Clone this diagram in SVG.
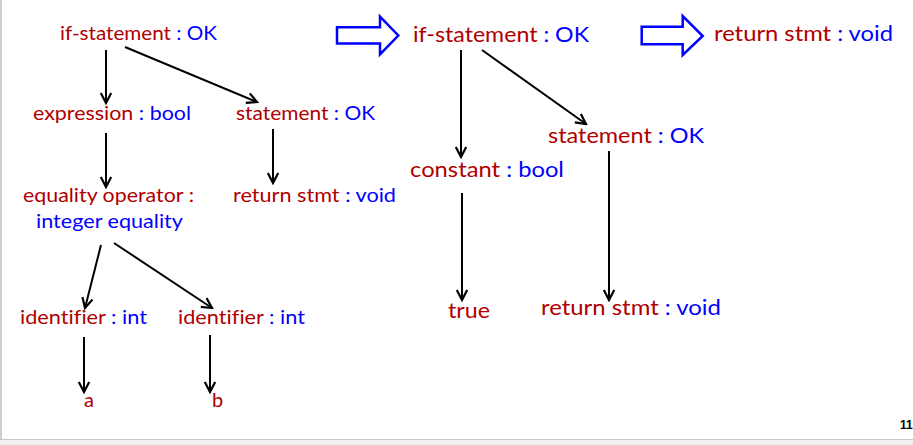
<svg xmlns="http://www.w3.org/2000/svg" width="913" height="445" viewBox="0 0 913 445">
<defs>
<style>
text{font-family:Lato,"Open Sans","Liberation Sans",sans-serif;font-variant-ligatures:none;}
.l{font-size:20px;}
.r{font-size:22px;}
.red{fill:#b00000;}
.blue{fill:#0000ff;}
.edge{stroke:#000;stroke-width:2;fill:none;marker-end:url(#ah);}
.big{fill:#fff;stroke:#0000ff;stroke-width:2.5;stroke-linejoin:miter;}
</style>
<marker id="ah" viewBox="0 0 14 14" refX="12" refY="7" markerWidth="14" markerHeight="14" markerUnits="userSpaceOnUse" orient="auto">
<path d="M2,1.8 L12,7 L2,12.2" fill="none" stroke="#000" stroke-width="2.2"/>
</marker>
</defs>
<rect x="0" y="0" width="913" height="445" fill="#fff"/>
<rect x="0" y="440" width="913" height="5" fill="#f0f0f0"/>
<line x1="0" y1="439.5" x2="913" y2="439.5" stroke="#c4c8cf" stroke-width="1"/>
<line x1="1" y1="0" x2="1" y2="440" stroke="#b8bec8" stroke-width="1.5"/>

<g id="connectors">
<line class="edge" x1="106" y1="50" x2="106" y2="103"/>
<line class="edge" x1="125" y1="47" x2="257" y2="102"/>
<line class="edge" x1="106" y1="133" x2="106" y2="187"/>
<line class="edge" x1="273" y1="129" x2="273" y2="183"/>
<line class="edge" x1="101" y1="245" x2="85" y2="308"/>
<line class="edge" x1="114" y1="243" x2="212" y2="308"/>
<line class="edge" x1="84" y1="337" x2="84" y2="392"/>
<line class="edge" x1="210" y1="335" x2="210" y2="392"/>
<line class="edge" x1="461" y1="50" x2="461" y2="157"/>
<line class="edge" x1="482" y1="50" x2="586" y2="124"/>
<line class="edge" x1="462" y1="193" x2="462" y2="300"/>
<line class="edge" x1="609" y1="151" x2="609" y2="300"/>
</g>

<g id="transform-arrow-1">
<path class="big" d="M337,27.3 H380 V16.7 L398.3,35.5 L380,54.3 V43.5 H337 Z"/>
</g>
<g id="transform-arrow-2">
<path class="big" d="M641.7,26.7 H682.7 V16 L702.7,36 L682.7,55 V44.3 H641.7 Z"/>
</g>

<g id="n-if-left"><text class="l" x="60" y="40" textLength="157" lengthAdjust="spacingAndGlyphs"><tspan class="red">if-statement</tspan><tspan class="blue"> : OK</tspan></text></g>
<g id="n-expression"><text class="l" x="33" y="120" textLength="158" lengthAdjust="spacingAndGlyphs"><tspan class="red">expression</tspan><tspan class="blue"> : bool</tspan></text></g>
<g id="n-statement-left"><text class="l" x="236" y="120" textLength="139" lengthAdjust="spacingAndGlyphs"><tspan class="red">statement</tspan><tspan class="blue"> : OK</tspan></text></g>
<g id="n-equality"><text class="l red" x="23" y="202" textLength="171" lengthAdjust="spacingAndGlyphs">equality operator :</text><text class="l blue" x="36" y="228" textLength="147" lengthAdjust="spacingAndGlyphs">integer equality</text></g>
<g id="n-return-left"><text class="l" x="233" y="202" textLength="163" lengthAdjust="spacingAndGlyphs"><tspan class="red">return stmt</tspan><tspan class="blue"> : void</tspan></text></g>
<g id="n-ident-a"><text class="l" x="20" y="324" textLength="127" lengthAdjust="spacingAndGlyphs"><tspan class="red">identifier</tspan><tspan class="blue"> : int</tspan></text></g>
<g id="n-ident-b"><text class="l" x="178" y="324" textLength="127" lengthAdjust="spacingAndGlyphs"><tspan class="red">identifier</tspan><tspan class="blue"> : int</tspan></text></g>
<g id="n-a"><text class="l red" x="84" y="407">a</text></g>
<g id="n-b"><text class="l red" x="212" y="407">b</text></g>

<g id="n-if-right"><text class="r" x="413" y="42" textLength="176" lengthAdjust="spacingAndGlyphs"><tspan class="red">if-statement</tspan><tspan class="blue"> : OK</tspan></text></g>
<g id="n-return-top"><text class="r" x="714" y="41" textLength="179" lengthAdjust="spacingAndGlyphs"><tspan class="red">return stmt</tspan><tspan class="blue"> : void</tspan></text></g>
<g id="n-statement-right"><text class="r" x="548" y="143" textLength="156" lengthAdjust="spacingAndGlyphs"><tspan class="red">statement</tspan><tspan class="blue"> : OK</tspan></text></g>
<g id="n-constant"><text class="r" x="410" y="177" textLength="154" lengthAdjust="spacingAndGlyphs"><tspan class="red">constant</tspan><tspan class="blue"> : bool</tspan></text></g>
<g id="n-true"><text class="r red" x="448" y="318" textLength="42" lengthAdjust="spacingAndGlyphs">true</text></g>
<g id="n-return-right"><text class="r" x="541" y="315" textLength="180" lengthAdjust="spacingAndGlyphs"><tspan class="red">return stmt</tspan><tspan class="blue"> : void</tspan></text></g>

<text x="900" y="429" style="font-family:'Liberation Sans',Arial,sans-serif;font-size:12px;font-weight:bold;" fill="#000">11</text>
</svg>
